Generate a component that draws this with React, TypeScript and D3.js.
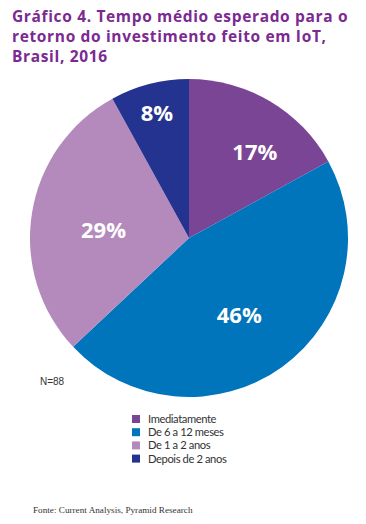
import React from "react";
import * as d3 from "d3";

const categories = ["Imediatamente", "De 6 a 12 meses", "De 1 a 2 anos", "Depois de 2 anos"];
const values = [17, 46, 29, 8];
const colors = ["#7b4596", "#0075bc", "#b48abd", "#24338f"];
const titleLines = ["Gráfico 4. Tempo médio esperado para o", "retorno do investimento feito em IoT,", "Brasil, 2016"];
const sampleNote = "N=88";
const sourceNote = "Fonte: Current Analysis, Pyramid Research";

const W = 366, H = 524;
const cx = 189, cy = 238, R = 159;
const labelR = [0.68, 0.58, 0.54, 0.81];
const labelShiftDeg = [6.9, 3, -3.7, 0];

export default function App() {
  const pie = d3.pie<number>().sort(null).value((d) => d)(values);
  const arc = d3.arc<d3.PieArcDatum<number>>().innerRadius(0).outerRadius(R);
  return (
    <svg width={W} height={H} style={{ position: "absolute", left: 0, top: 0, background: "#fff" }}>
      <g fontFamily="'Open Sans', sans-serif" fontWeight={700} fill="#7a2a91" fontSize={15.5} letterSpacing={0.65}>
        {titleLines.map((t, i) => (
          <text key={i} x={12} y={21.5 + i * 20}>{t}</text>
        ))}
      </g>
      <g transform={`translate(${cx},${cy})`}>
        {pie.map((p, i) => (
          <path key={i} d={arc(p) || ""} fill={colors[i]} />
        ))}
        {pie.map((p, i) => {
          const a = (p.startAngle + p.endAngle) / 2 + (labelShiftDeg[i] * Math.PI) / 180;
          const r = R * labelR[i];
          return (
            <text key={"l" + i} x={Math.sin(a) * r} y={-Math.cos(a) * r} dy="0.36em" textAnchor="middle"
              fill="#fff" fontFamily="'Open Sans', sans-serif" fontWeight={700} fontSize={22}>
              {values[i]}%
            </text>
          );
        })}
      </g>
      <text x={40} y={385} fontFamily="Arial, 'Liberation Sans', sans-serif" fontSize={10} fill="#333">{sampleNote}</text>
      <g fontFamily="Lato, sans-serif" fontSize={11.2} fill="#333" letterSpacing={-0.4}>
        {categories.map((c, i) => (
          <g key={i} transform={`translate(132,${419 + i * 13.2})`}>
            <rect x={0} y={-4} width={8} height={8} fill={colors[i]} />
            <text x={16} y={0} dy="0.35em">{c}</text>
          </g>
        ))}
      </g>
      <text x={33} y={513} fontFamily="'Liberation Serif', serif" fontSize={9.2} fill="#333">{sourceNote}</text>
    </svg>
  );
}
